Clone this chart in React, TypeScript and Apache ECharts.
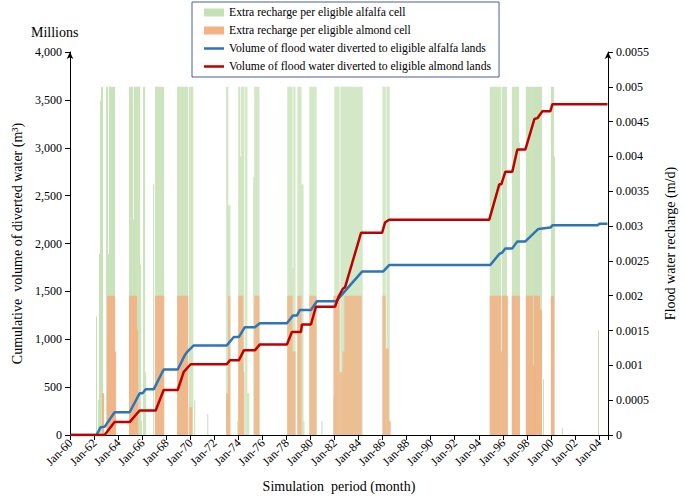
import React, { useEffect, useRef } from "react";
import * as echarts from "echarts";

// ---- Data ----
const START_YEAR = 1960;
const N_MONTHS = 537; // Jan-1960 .. Sep-2004
const MONTH_NAMES = ["Jan", "Feb", "Mar", "Apr", "May", "Jun", "Jul", "Aug", "Sep", "Oct", "Nov", "Dec"];
const categories = Array.from({ length: N_MONTHS }, (_, i) =>
  `${MONTH_NAMES[i % 12]}-${String((START_YEAR + Math.floor(i / 12)) % 100).padStart(2, "0")}`
);

// recharge runs: [startMonthIndex, endMonthIndex, value m/d]
const alfalfaRechargeRuns: [number, number, number][] = [
  [26, 26, 0.0017], [28, 28, 0.0005], [29, 29, 0.0026], [30, 30, 0.0048], [31, 32, 0.005],
  [36, 37, 0.005], [38, 38, 0.0026], [39, 41, 0.005], [42, 44, 0.005],
  [59, 61, 0.005], [62, 62, 0.005], [63, 63, 0.0031], [64, 69, 0.005], [70, 70, 0.00245], [71, 71, 0.0002],
  [73, 74, 0.005], [75, 75, 0.0009], [83, 83, 0.0036], [85, 93, 0.005],
  [107, 117, 0.005], [119, 122, 0.005], [124, 124, 0.0005], [137, 137, 0.0003],
  [156, 157, 0.005], [158, 159, 0.0033], [167, 167, 0.0002], [168, 169, 0.005], [170, 170, 0.004],
  [171, 173, 0.005], [175, 176, 0.005], [177, 178, 0.0006], [183, 183, 0.0037], [184, 188, 0.005],
  [217, 218, 0.005], [219, 221, 0.005], [222, 222, 0.0024], [223, 224, 0.005], [227, 230, 0.005],
  [231, 232, 0.0036], [233, 233, 0.0002], [239, 245, 0.005], [251, 251, 0.0002], [263, 263, 0.00055],
  [264, 268, 0.005], [270, 291, 0.005], [312, 314, 0.005], [316, 318, 0.005],
  [419, 429, 0.005], [431, 435, 0.005], [441, 447, 0.005], [448, 448, 0.0042], [455, 466, 0.005],
  [467, 470, 0.005], [472, 472, 0.0008], [480, 482, 0.005], [483, 483, 0.004], [491, 491, 0.0001],
  [527, 527, 0.0015],
];

const almondRechargeRuns: [number, number, number][] = [
  [32, 33, 0.0006], [37, 44, 0.002], [45, 45, 0.0012],
  [59, 66, 0.002], [67, 67, 0.0015], [85, 93, 0.002],
  [107, 117, 0.002], [119, 121, 0.0004],
  [156, 157, 0.0006], [158, 159, 0.002], [168, 172, 0.002], [173, 173, 0.0009], [184, 188, 0.002],
  [217, 221, 0.002], [222, 224, 0.0012], [227, 230, 0.002], [239, 245, 0.002], [263, 268, 0.002],
  [269, 271, 0.0009], [272, 273, 0.0012], [274, 290, 0.002], [312, 314, 0.002], [315, 317, 0.00124],
  [318, 319, 0.0002],
  [419, 429, 0.002], [430, 430, 0.0012], [431, 436, 0.002], [441, 448, 0.002], [455, 461, 0.002],
  [462, 462, 0.001], [463, 468, 0.002], [469, 470, 0.0018], [480, 482, 0.002],
];

// cumulative volumes (millions m3): [monthIndex, value]
const alfalfaVolume: [number, number][] = [
  [0, 0], [26, 0], [30, 80], [34, 85], [44, 238], [59, 238], [69, 435], [72, 435], [75, 477], [83, 477],
  [93, 684], [107, 684], [114, 832], [117, 874], [123, 936], [156, 936], [163, 1023], [168, 1023],
  [174, 1126], [184, 1126], [189, 1168], [216, 1168], [222, 1247], [226, 1247], [229, 1306], [240, 1306],
  [246, 1396], [265, 1396], [291, 1707], [312, 1707], [318, 1775], [419, 1775], [428, 1891], [431, 1905],
  [434, 1949], [441, 1949], [446, 2022], [454, 2022], [467, 2152], [479, 2166], [481, 2190], [526, 2190],
  [528, 2205], [536, 2205],
];

const almondVolume: [number, number][] = [
  [0, 0], [34, 0], [44, 135], [59, 135], [69, 256], [85, 256], [93, 470], [107, 470], [113, 660],
  [120, 739], [156, 739], [159, 780], [168, 780], [173, 884], [184, 884], [189, 946], [216, 946],
  [221, 1075], [230, 1075], [231, 1154], [240, 1154], [245, 1340], [264, 1340], [268, 1454], [272, 1530],
  [274, 1541], [290, 2111], [311, 2111], [314, 2220], [318, 2249], [418, 2249], [428, 2618], [430, 2618],
  [434, 2749], [441, 2749], [446, 2981], [454, 2981], [463, 3300], [466, 3309], [471, 3382], [479, 3382],
  [481, 3455], [536, 3455],
];

const LEGEND_NAMES = [
  "Extra recharge per eligible alfalfa cell",
  "Extra recharge per eligible almond cell",
  "Volume of flood water diverted to eligible alfalfa lands",
  "Volume of flood water diverted to eligible almond lands",
];

function expandRuns(runs: [number, number, number][]): (number | null)[] {
  const arr: (number | null)[] = new Array(N_MONTHS).fill(null);
  runs.forEach(([s, e, v]) => {
    for (let i = s; i <= e; i++) arr[i] = v;
  });
  return arr;
}

const FONT = "'Liberation Serif', serif";
const LINE_ICON = "path://M0,0 L0.01,0 M0,2.8 L20,2.8 L20,5.2 L0,5.2 Z M19.99,8 L20,8";

export default function App() {
  const ref = useRef<HTMLDivElement>(null);
  useEffect(() => {
    if (!ref.current) return;
    const chart = echarts.init(ref.current, null, { renderer: "svg" });
    const axisLine = { show: true, lineStyle: { color: "#000", width: 1 } };
    const tickFont = { fontSize: 12, fontFamily: FONT, color: "#000" };
    const nameFont = { fontSize: 14, fontFamily: FONT, color: "#000" };
    chart.setOption({
      animation: false,
      backgroundColor: "#fff",
      textStyle: { fontFamily: FONT, color: "#000" },
      grid: { left: 70, right: 72, top: 52, bottom: 61 },
      legend: {
        orient: "vertical",
        left: 192,
        top: 2,
        itemWidth: 20,
        itemHeight: 8,
        itemGap: 5,
        padding: [4, 8, 4, 12],
        borderColor: "#4a5f95",
        borderWidth: 1,
        backgroundColor: "#fff",
        textStyle: { fontFamily: FONT, fontSize: 11.7, color: "#000", lineHeight: 13 },
        data: [
          { name: LEGEND_NAMES[0], icon: "rect" },
          { name: LEGEND_NAMES[1], icon: "rect" },
          { name: LEGEND_NAMES[2], icon: LINE_ICON },
          { name: LEGEND_NAMES[3], icon: LINE_ICON },
        ],
      },
      graphic: [
        {
          type: "text",
          left: 31,
          top: 25,
          style: { text: "Millions", fontSize: 14, fontFamily: FONT, fill: "#000" },
        },
      ],
      xAxis: {
        type: "category",
        data: categories,
        boundaryGap: true,
        axisLine,
        axisTick: { show: true, interval: 23, length: 5, lineStyle: { color: "#000" } },
        axisLabel: { interval: 23, rotate: 45, margin: 6, ...tickFont },
        splitLine: { show: false },
        name: "Simulation  period (month)",
        nameLocation: "middle",
        nameGap: 44,
        nameTextStyle: nameFont,
      },
      yAxis: [
        {
          type: "value",
          min: 0,
          max: 4000,
          interval: 500,
          position: "left",
          axisLine: { ...axisLine, symbol: ["none", "arrow"], symbolSize: [5, 7] },
          axisTick: { show: true, length: 5, lineStyle: { color: "#000" } },
          axisLabel: {
            ...tickFont,
            formatter: (v: number) => v.toLocaleString("en-US"),
          },
          splitLine: { show: false },
          name: "Cumulative  volume of diverted water (m³)",
          nameLocation: "middle",
          nameRotate: 90,
          nameGap: 46,
          nameTextStyle: nameFont,
        },
        {
          type: "value",
          min: 0,
          max: 0.0055,
          interval: 0.0005,
          position: "right",
          axisLine: { ...axisLine, symbol: ["none", "arrow"], symbolSize: [5, 7] },
          axisTick: { show: true, length: 5, lineStyle: { color: "#000" } },
          axisLabel: {
            ...tickFont,
            formatter: (v: number) => (v === 0 ? "0" : String(Number(v.toFixed(4)))),
          },
          splitLine: { show: false },
          name: "Flood water recharge (m/d)",
          nameLocation: "middle",
          nameRotate: 90,
          nameGap: 55,
          nameTextStyle: nameFont,
        },
      ],
      series: [
        {
          name: LEGEND_NAMES[0],
          type: "bar",
          yAxisIndex: 1,
          data: expandRuns(alfalfaRechargeRuns),
          barCategoryGap: "0%",
          barGap: "-100%",
          itemStyle: { color: "#c5e0b4" },
          z: 1,
        },
        {
          name: LEGEND_NAMES[1],
          type: "bar",
          yAxisIndex: 1,
          data: expandRuns(almondRechargeRuns),
          barCategoryGap: "0%",
          barGap: "-100%",
          itemStyle: { color: "#f4b183" },
          z: 2,
        },
        {
          name: LEGEND_NAMES[2],
          type: "line",
          yAxisIndex: 0,
          data: alfalfaVolume,
          symbol: "none",
          lineStyle: { color: "#2e75b6", width: 2.5 },
          itemStyle: { color: "#2e75b6" },
          z: 4,
        },
        {
          name: LEGEND_NAMES[3],
          type: "line",
          yAxisIndex: 0,
          data: almondVolume,
          symbol: "none",
          lineStyle: { color: "#c00000", width: 2.5 },
          itemStyle: { color: "#c00000" },
          z: 5,
        },
      ],
    });
    return () => chart.dispose();
  }, []);
  return (
    <div
      ref={ref}
      style={{ position: "absolute", left: 0, top: 0, width: 685, height: 498, background: "#fff" }}
    />
  );
}
